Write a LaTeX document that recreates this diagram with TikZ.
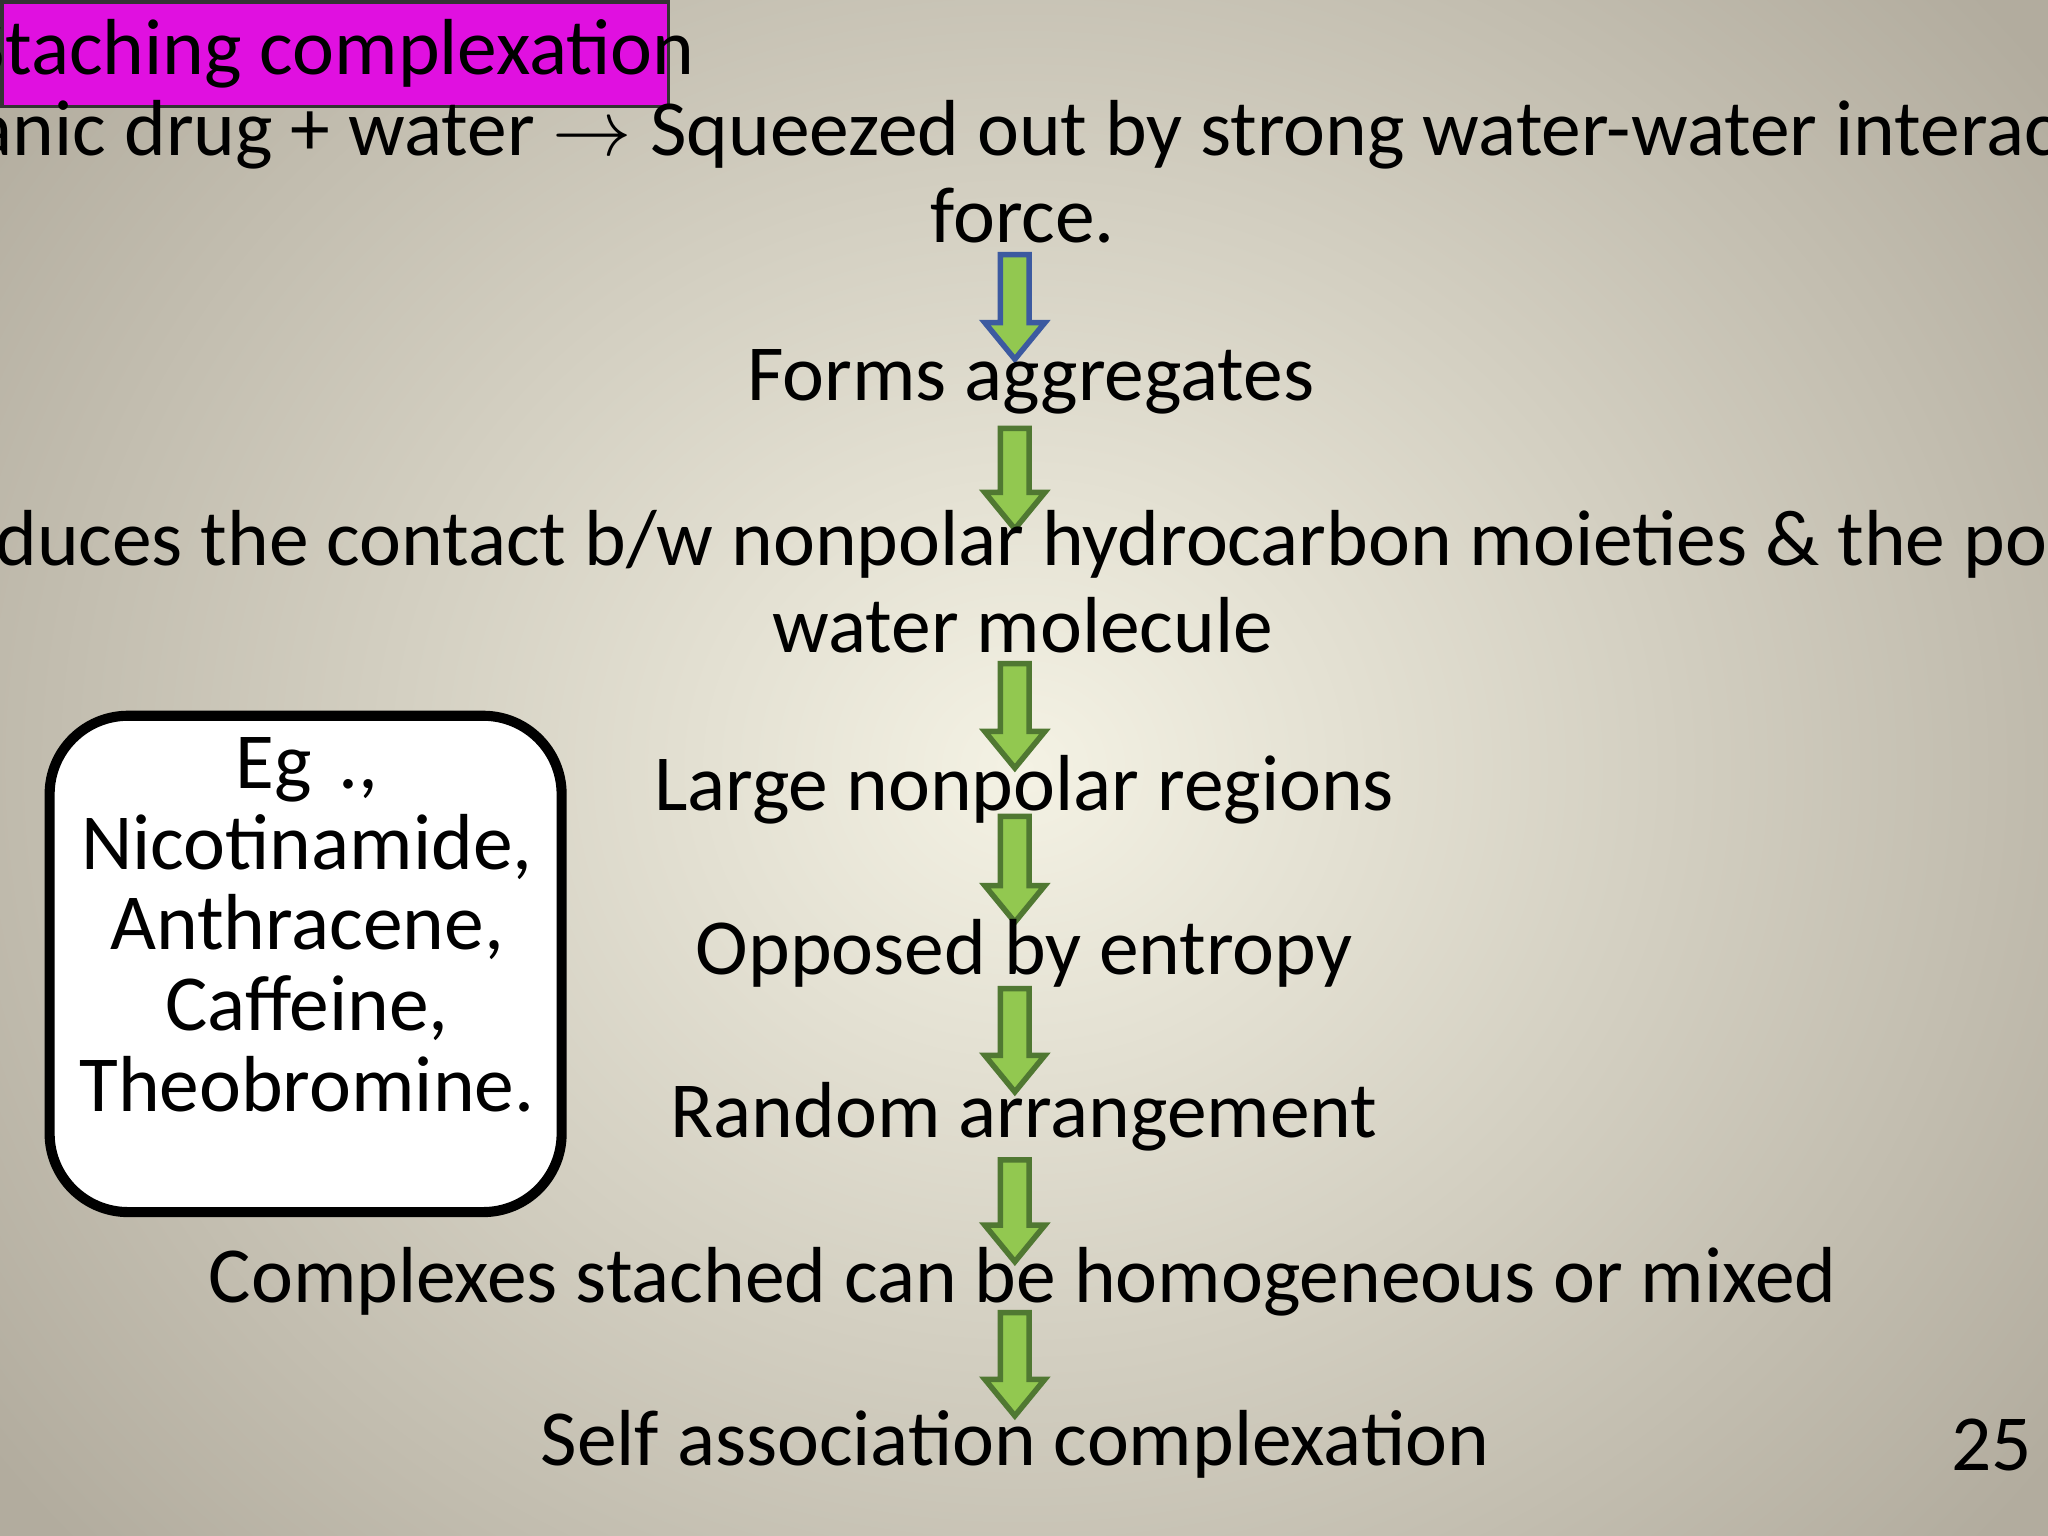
\documentclass[tikz,border=0pt]{standalone}
\usepackage{fontspec}
\setmainfont{Carlito}
\definecolor{gfill}{RGB}{146,200,80}
\definecolor{gdraw}{RGB}{80,120,50}
\definecolor{bdraw}{RGB}{60,90,160}
\definecolor{magen}{RGB}{224,16,224}
\definecolor{bgin}{RGB}{244,242,228}
\definecolor{bgout}{RGB}{178,172,158}
\begin{document}
\begin{tikzpicture}[x=0.01cm,y=-0.01cm,
  txt/.style={font=\fontsize{17.3}{21}\selectfont, inner sep=0pt, align=center},
  garrow/.style={fill=gfill, draw=gdraw, line width=1.2pt, line join=miter}]
\useasboundingbox (0,0) rectangle (1568,1176);
\begin{scope}
\clip (0,0) rectangle (1568,1176);
\shade[inner color=bgin, outer color=bgout] (-200,-300) rectangle (1768,1476);
\end{scope}
\newcommand\garr[4][gdraw]{%
  \draw[garrow, draw=#1] (#2-11,#3) -- (#2+11,#3) -- (#2+11,#4-28) -- (#2+23,#4-28) -- (#2,#4) -- (#2-23,#4-28) -- (#2-11,#4-28) -- cycle;}
\node[draw=black!80, line width=0.8pt, fill=magen, minimum width=5.1cm, minimum height=0.8cm, anchor=north west, inner sep=0pt] (title) at (0,0) {};
\node[txt] at (254,41) {Staching complexation};
\node[txt] (l1) at (783,103) {Organic drug + water $\rightarrow$ Squeezed out by strong water-water interaction};
\node[txt] (l1b) at (783,165) {force.};
\garr[bdraw]{777}{195}{275}
\node[txt] (a) at (789,292) {Forms aggregates};
\garr{777}{328}{405}
\node[txt] (b) at (783,417) {Reduces the contact b/w nonpolar hydrocarbon moieties \& the polar};
\node[txt] (b2) at (783,479) {water molecule};
\garr{777}{508}{588}
\node[txt] (c) at (784,605) {Large nonpolar regions};
\garr{777}{625}{706}
\node[txt] (d) at (784,730) {Opposed by entropy};
\garr{777}{757}{836}
\node[txt] (e) at (784,855) {Random arrangement};
\garr{777}{888}{966}
\node[txt] (f) at (783,981) {Complexes stached can be homogeneous or mixed};
\garr{777}{1005}{1084}
\node[txt] (g) at (777,1106) {Self association complexation};
\node[txt] (num) at (1525,1106) {25};
\draw[fill=white, line width=2.2pt, rounded corners=0.6cm] (38,548) rectangle (430,928);
\node[txt, text width=3.9cm, font=\fontsize{17.3}{17.6}\selectfont] (eg) at (235,708) {Eg .,\\Nicotinamide,\\Anthracene,\\Caffeine,\\Theobromine.};
\end{tikzpicture}
\end{document}
